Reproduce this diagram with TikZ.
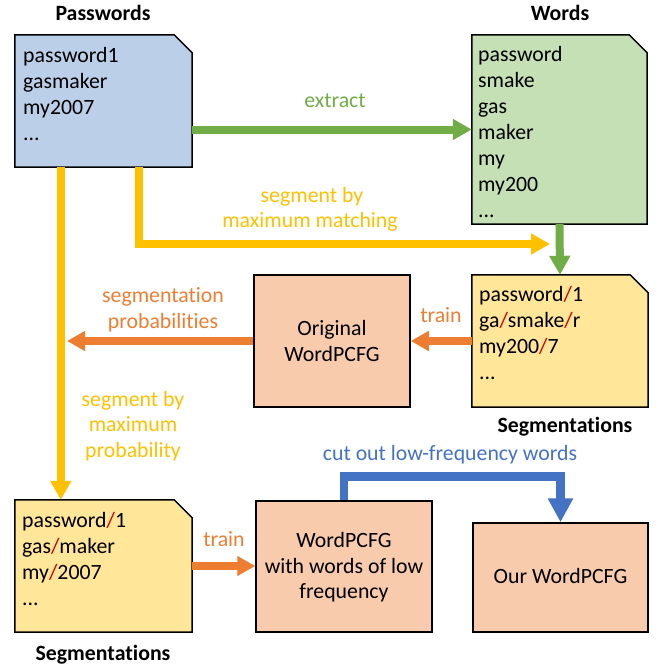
\documentclass[tikz,border=0pt]{standalone}
\usepackage{fontspec}
\setmainfont{Carlito}[Ligatures=NoCommon]
\usetikzlibrary{arrows.meta,calc}
\definecolor{fblue}{HTML}{BCCFE9}
\definecolor{fgreen}{HTML}{C5E0B4}
\definecolor{fyellow}{HTML}{FFE699}
\definecolor{forange}{HTML}{F8CBAD}
\definecolor{cgreen}{HTML}{70AD47}
\definecolor{cyellow}{HTML}{FFC000}
\definecolor{corange}{HTML}{ED7D31}
\definecolor{cblue}{HTML}{4472C4}
\definecolor{slashred}{HTML}{D00000}
\newcommand\rsl{\textcolor{slashred}{/}}
\newcommand\notebox[2]{\draw[boxline, fill=#2] (#1.north west) -- ([xshift=-18pt]#1.north east) -- ([yshift=-18pt]#1.north east) -- (#1.south east) -- (#1.south west) -- cycle;}
\begin{document}
\begin{tikzpicture}[x=1pt,y=-1pt,
  every node/.style={inner sep=0pt, font=\fontsize{21.8}{26}\selectfont},
  boxline/.style={draw=black, line width=1.5pt, line join=miter},
  plainbox/.style={boxline, fill=forange},
  ln/.style={anchor=base west},
  lbl/.style={anchor=base},
  ttl/.style={anchor=base, font=\fontsize{21.8}{26}\selectfont\bfseries},
  garrow/.style={draw=cgreen, line width=8pt, -{Triangle[length=19pt,width=20pt]}},
  yarrow/.style={draw=cyellow, line width=7.5pt, line join=miter, -{Triangle[length=19pt,width=20pt]}},
  oarrow/.style={draw=corange, line width=8.5pt, -{Triangle[length=18pt,width=19pt]}},
  barrow/.style={draw=cblue, line width=8.5pt, line join=miter, -{Triangle[length=24pt,width=24pt]}}
]
\useasboundingbox (0,0) rectangle (656,667);

% box frames (empty nodes giving named anchors)
\node[minimum width=177pt, minimum height=132pt] (pw) at (103.5,101) {};
\node[minimum width=175pt, minimum height=189pt] (wd) at (559.5,129.5) {};
\node[minimum width=176pt, minimum height=132pt] (seg1) at (560,341) {};
\node[minimum width=177pt, minimum height=132pt] (seg2) at (103.5,566) {};
\node[plainbox, minimum width=156pt, minimum height=132pt] (orig) at (332,341) {};
\node[plainbox, minimum width=176pt, minimum height=131pt] (wl) at (344,566.5) {};
\node[plainbox, minimum width=175pt, minimum height=109pt] (our) at (560.5,577.5) {};

\notebox{pw}{fblue}
\notebox{wd}{fgreen}
\notebox{seg1}{fyellow}
\notebox{seg2}{fyellow}

% titles
\node[ttl] (tpw) at (103,20) {Passwords};
\node[ttl] (twd) at (560,20) {Words};
\node[ttl] (tseg1) at (565,432) {Segmentations};
\node[ttl] (tseg2) at (103,660) {Segmentations};

% passwords
\node[ln] (pw1) at (23,62) {password1};
\node[ln] (pw2) at (23,88) {gasmaker};
\node[ln] (pw3) at (23,114) {my2007};
\node[ln] (pw4) at (23,140) {...};

% words
\node[ln] (wd1) at (478,61) {password};
\node[ln] (wd2) at (478,87) {smake};
\node[ln] (wd3) at (478,113) {gas};
\node[ln] (wd4) at (478,139) {maker};
\node[ln] (wd5) at (478,165) {my};
\node[ln] (wd6) at (478,191) {my200};
\node[ln] (wd7) at (478,217) {...};

% segmentations 1
\node[ln] (sa1) at (479,301) {password\rsl1};
\node[ln] (sa2) at (479,327) {ga\rsl smake\rsl r};
\node[ln] (sa3) at (479,353) {my200\rsl7};
\node[ln] (sa4) at (479,379) {...};

% segmentations 2
\node[ln] (sb1) at (22,527) {password\rsl1};
\node[ln] (sb2) at (22,553) {gas\rsl maker};
\node[ln] (sb3) at (22,579) {my\rsl2007};
\node[ln] (sb4) at (22,605) {...};

% model box texts
\node[lbl] (o1) at (332,335) {Original};
\node[lbl] (o2) at (332,361) {WordPCFG};
\node[lbl] (w1) at (344,547) {WordPCFG};
\node[lbl] (w2) at (344,573) {with words of low};
\node[lbl] (w3) at (344,598) {frequency};
\node[lbl] (u1) at (560.5,583) {Our WordPCFG};

% connectors
\coordinate (ymm) at (550,244);
\coordinate (sp) at (67,341);
\draw[garrow] (pw.east |- wd.west) -- (wd.west);
\draw[garrow] (wd.south) -- (seg1.north);
\draw[yarrow] ([xshift=46pt]pw.south west) -- ([xshift=46pt]seg2.north west);
\draw[yarrow] ([xshift=124pt]pw.south west) |- (ymm);
\draw[oarrow] (seg1.west) -- (orig.east);
\draw[oarrow] (orig.west) -- (sp);
\draw[oarrow] (seg2.east) -- (seg2.east -| wl.west);
\draw[barrow] (wl.north) -- ++(0,-24) -| (our.north);

% connector labels
\node[lbl, text=cgreen] (lext) at (335,107) {extract};
\node[lbl, text=cyellow] (lmm1) at (312,202) {segment by};
\node[lbl, text=cyellow] (lmm2) at (310,227) {maximum matching};
\node[lbl, text=corange] (lsp1) at (163,302) {segmentation};
\node[lbl, text=corange] (lsp2) at (163,328) {probabilities};
\node[lbl, text=corange] (ltr1) at (441,322) {train};
\node[lbl, text=cyellow] (lmp1) at (133,406) {segment by};
\node[lbl, text=cyellow] (lmp2) at (133,431) {maximum};
\node[lbl, text=cyellow] (lmp3) at (133,457) {probability};
\node[lbl, text=cblue] (lcut) at (450,460) {cut out low-frequency words};
\node[lbl, text=corange] (ltr2) at (224,546) {train};
\end{tikzpicture}
\end{document}
